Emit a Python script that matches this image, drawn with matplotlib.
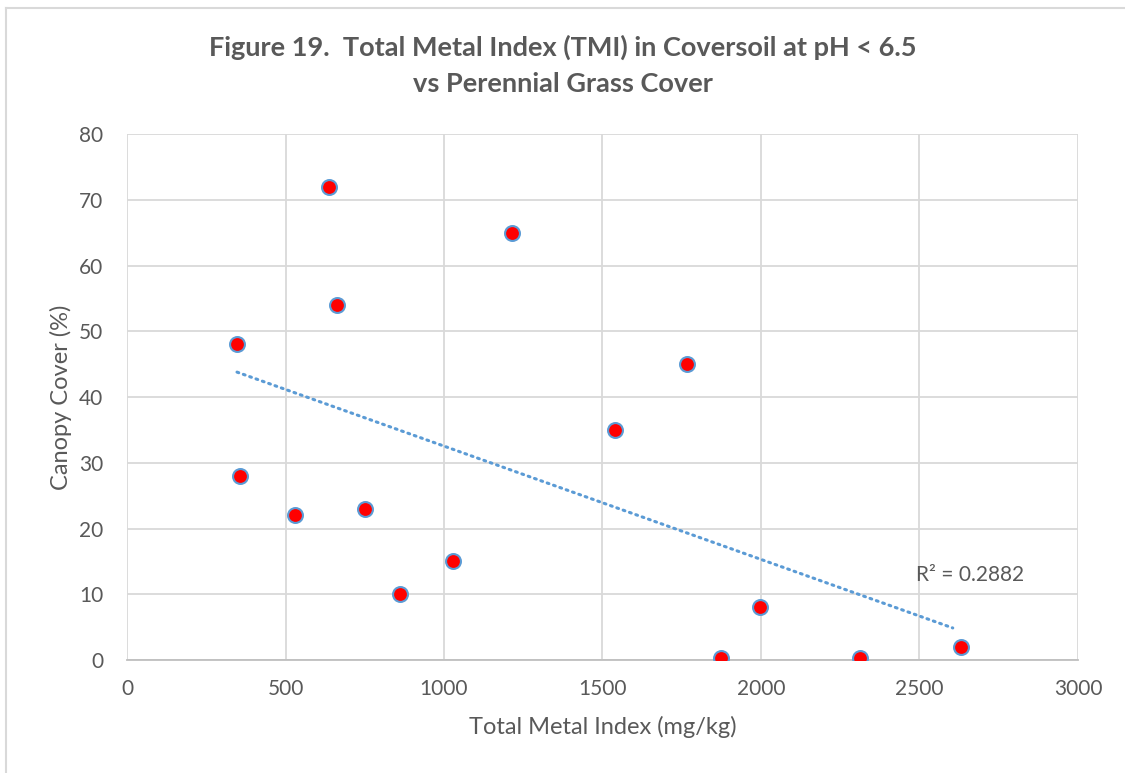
import numpy as np
import matplotlib.pyplot as plt
from matplotlib.lines import Line2D

# values
tmi = [637, 1214, 662, 347, 1767, 1539, 356, 751, 530, 1028, 861, 1874, 1997, 2312, 2630]
cover = [72, 65, 54, 48, 45, 35, 28, 23, 22, 15, 10, 0.3, 8, 0.3, 2]
r2_text = "R² = 0.2882"

x_ticks = [0, 500, 1000, 1500, 2000, 2500, 3000]
y_ticks = [0, 10, 20, 30, 40, 50, 60, 70, 80]

plt.rcParams['font.family'] = ['Lato', 'DejaVu Sans']
grey = '#595959'
blue = '#5B9BD5'

fig = plt.figure(figsize=(11.25, 7.73), dpi=100)
ax = fig.add_axes([0.1129, 0.1462, 0.8453, 0.6804])

# linear trendline
k, b = np.polyfit(tmi, cover, 1)
xs = np.array([min(tmi), max(tmi) - 25])
ax.plot(xs, k * xs + b, color=blue, lw=2.2, linestyle=(0, (0.6, 1.6)),
        dash_capstyle='round', zorder=2)

ax.scatter(tmi, cover, s=115, c='#FF0000', edgecolors=blue, linewidths=1.5, zorder=3)

ax.set_xlim(0, 3000)
ax.set_ylim(0, 80)
ax.set_xticks(x_ticks)
ax.set_yticks(y_ticks)
ax.grid(True, color='#D9D9D9', lw=1.3)
ax.set_axisbelow(True)
for s in ['top', 'right', 'left']:
    ax.spines[s].set_visible(False)
ax.spines['bottom'].set_color('#BFBFBF')
ax.spines['bottom'].set_linewidth(1.3)
ax.tick_params(length=0, labelsize=15, colors=grey, pad=14)
ax.tick_params(axis='y', pad=17)

ax.set_xlabel('Total Metal Index (mg/kg)', fontsize=17, color=grey, labelpad=12)
ax.set_ylabel('Canopy Cover (%)', fontsize=17, color=grey, labelpad=5)

ax.text(2490, 13, r2_text, fontsize=15, color=grey, va='center')

fig.text(0.5, 0.939, 'Figure 19.  Total Metal Index (TMI) in Coversoil at pH < 6.5',
         ha='center', va='center', fontsize=19.5, fontweight='bold', color=grey)
fig.text(0.5, 0.891, 'vs Perennial Grass Cover',
         ha='center', va='center', fontsize=19.5, fontweight='bold', color=grey)

# chart frame (left and top edges)
fig.add_artist(Line2D([0.0055, 0.0055], [0, 0.99], color='#D9D9D9', lw=1.5))
fig.add_artist(Line2D([0.0055, 1], [0.99, 0.99], color='#D9D9D9', lw=1.5))

fig.savefig('out.png', dpi=100)
